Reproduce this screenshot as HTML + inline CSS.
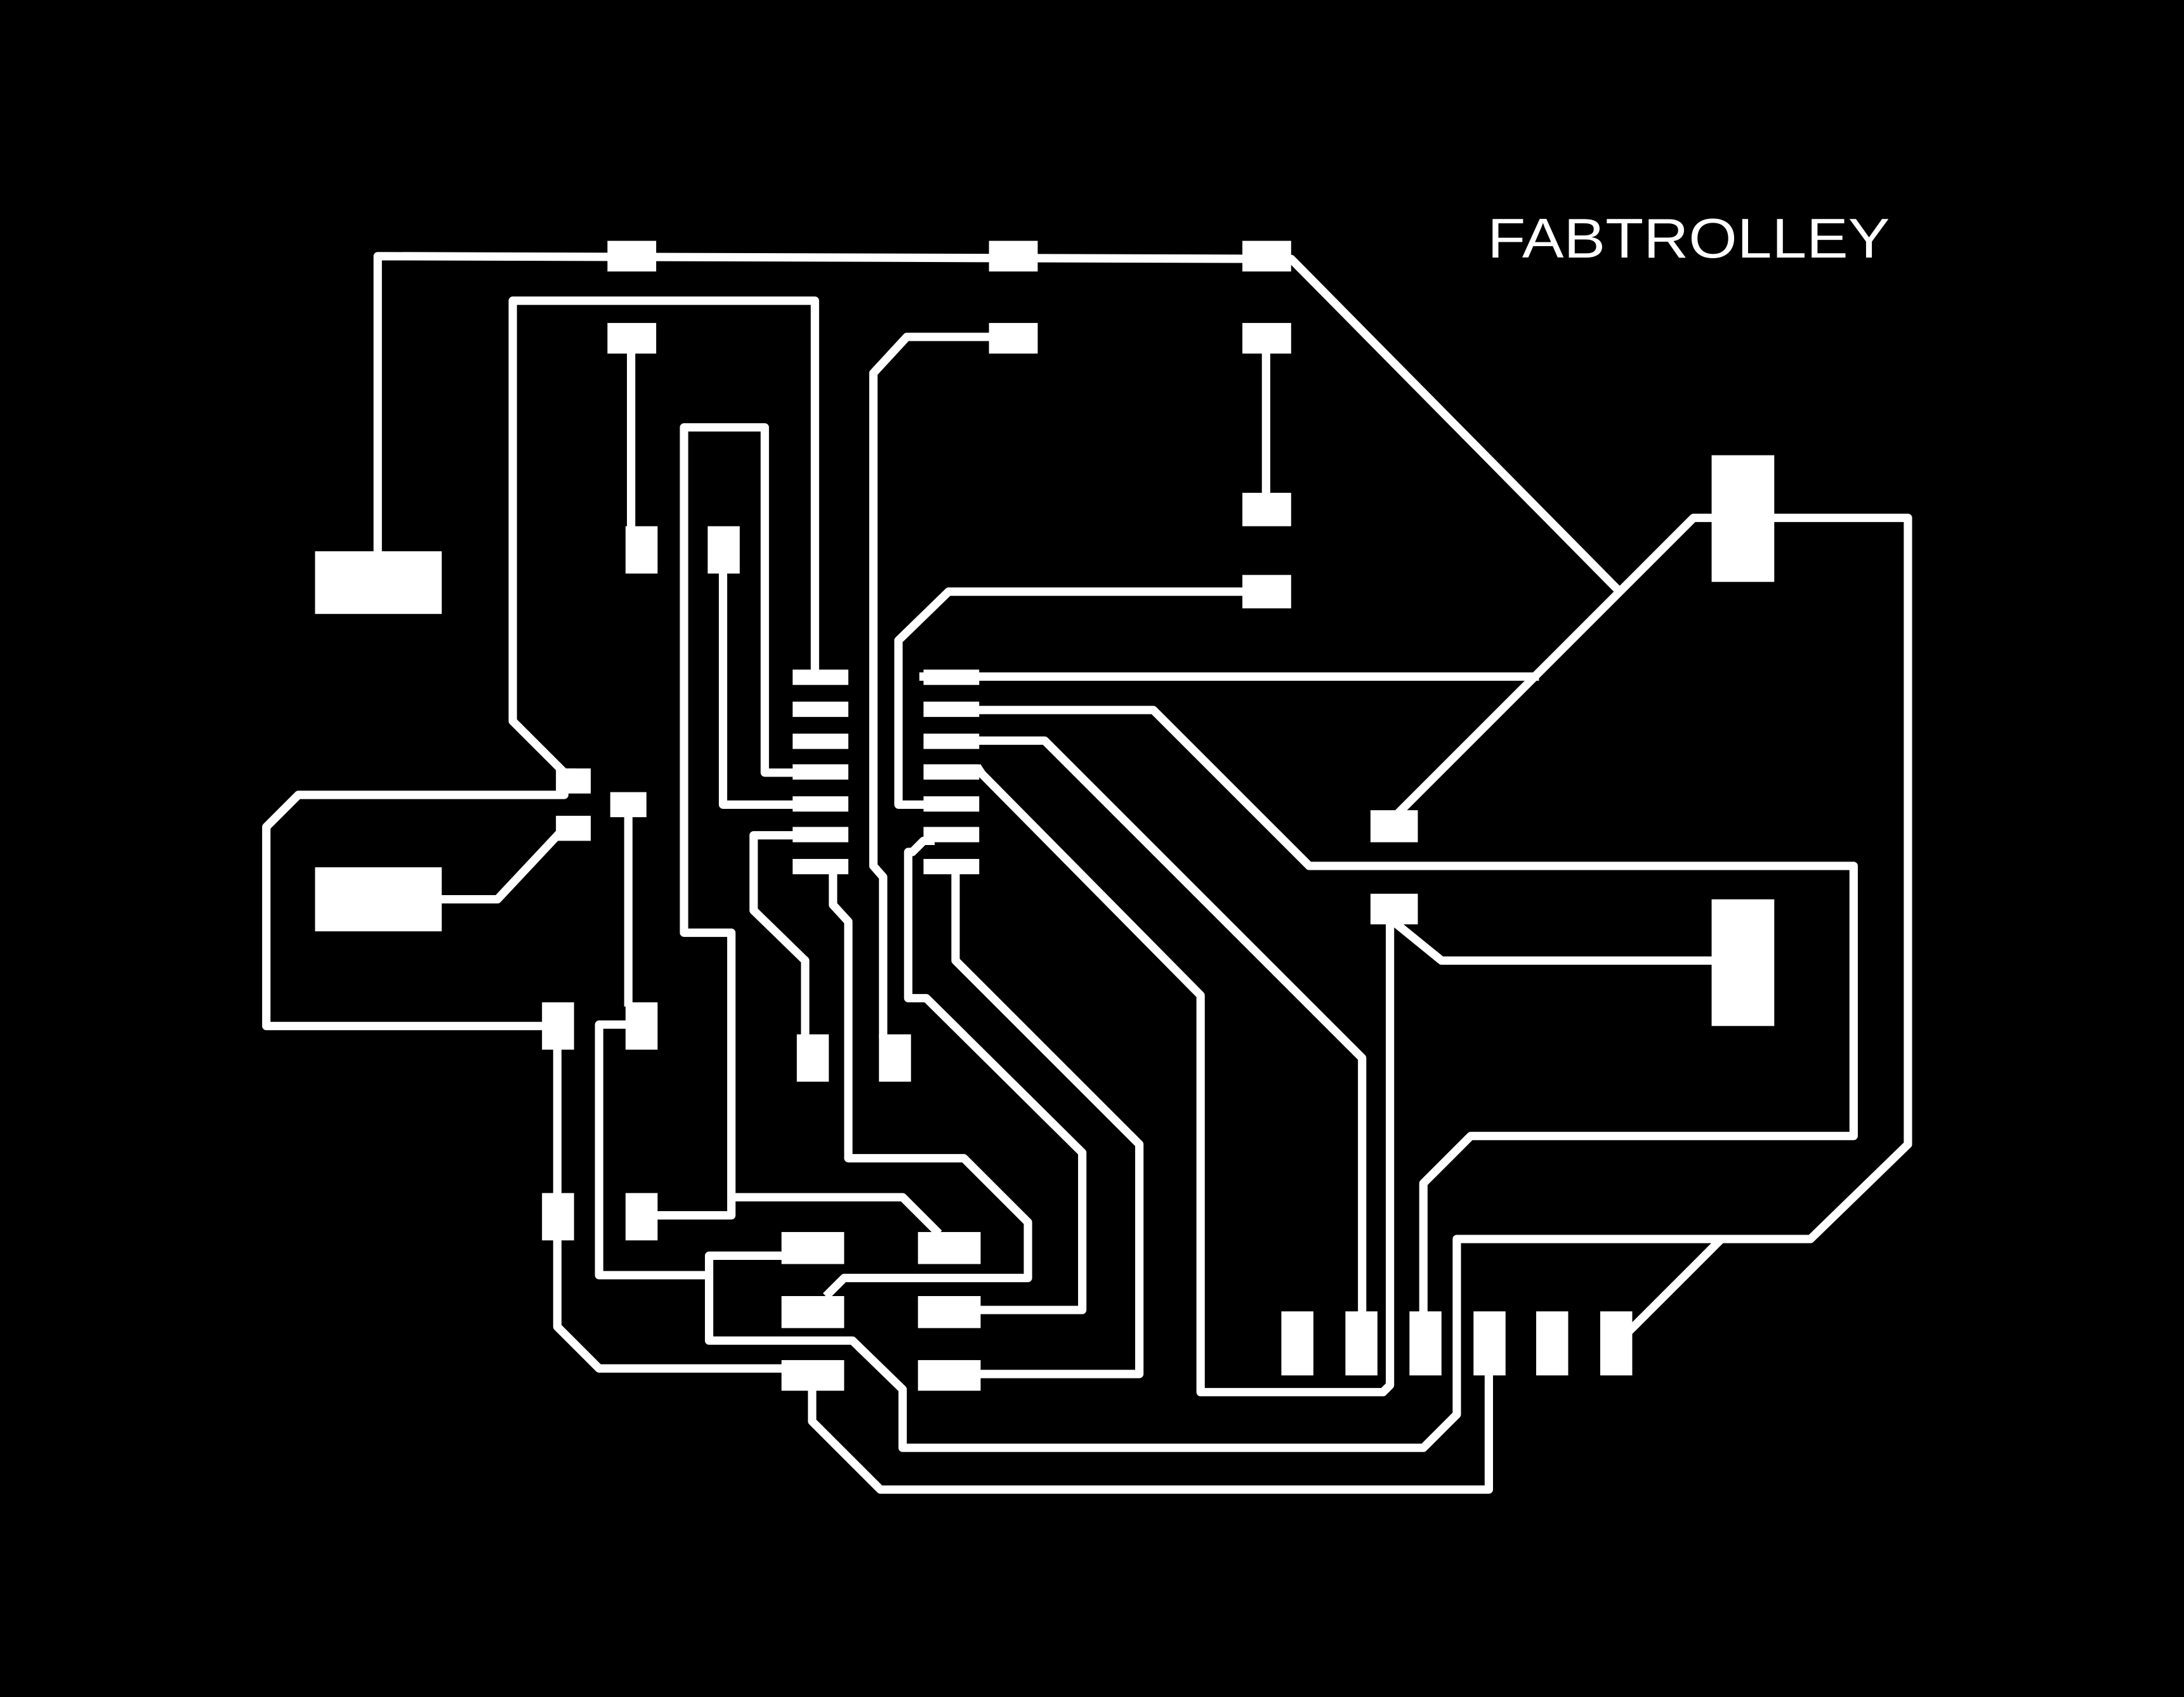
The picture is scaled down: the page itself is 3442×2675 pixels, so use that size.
<!DOCTYPE html>
<html><head><meta charset="utf-8"><style>
html,body{margin:0;padding:0;background:#000;}
svg{display:block;}
</style></head><body>
<svg width="3442" height="2675" viewBox="0 0 1568 1219" xmlns="http://www.w3.org/2000/svg">
<rect width="1568" height="1219" fill="#000"/>
<text x="1068" y="185" fill="#fff" font-family="Liberation Sans, sans-serif" font-size="40" textLength="289" lengthAdjust="spacingAndGlyphs">FABTROLLEY</text>
<g fill="none" stroke="#fff" stroke-width="6" stroke-linejoin="round" stroke-linecap="square">
<polyline points="271,400 271,184 927,186 1162,424"/>
<polyline points="1229,372 1216,372 1003,585"/>
<polyline points="663,486 1102,486"/>
<polyline points="1274,372 1370,372 1370,822 1300,890 1046,890 1046,1016 1022,1040 648,1040 648,998 612,963 509,963 509,902 561,902"/>
<polyline points="1233,893 1170,956"/>
<polyline points="1003,664 1035,690 1229,690"/>
<polyline points="998,664 998,995 993,1000 862,1000 862,715 705,556 703,553"/>
<polyline points="978,942 978,760 750,532 703,532"/>
<polyline points="703,510 828,510 940,622 1331,622 1331,816 1056,816 1022,850 1022,942"/>
<polyline points="1069,988 1069,1070 632,1070 583,1021 583,999"/>
<polyline points="585,482 585,216 368,216 368,518 405,555 410,555"/>
<polyline points="405,565 405,571 214,571 191,594 191,737 389,737"/>
<polyline points="317,646 357,646 402,598"/>
<polyline points="453,254 453,378"/>
<polyline points="909,254 909,354"/>
<polyline points="710,242 651,242 627,268 627,622 634,630 634,743"/>
<polyline points="892,425 681,425 645,460 645,578 663,578"/>
<polyline points="569,555 549,555 549,307 491,307 491,670 525,670 525,873 472,873"/>
<polyline points="519,412 519,578 569,578"/>
<polyline points="569,600 541,600 541,654 578,690 578,743"/>
<polyline points="598,628 598,650 609,662 609,832 692,832 738,878 738,918 606,918 595,929"/>
<polyline points="451,587 451,720"/>
<polyline points="400,754 400,857"/>
<polyline points="400,891 400,953 430,983 561,983"/>
<polyline points="449,736 430,736 430,916 505,916"/>
<polyline points="528,860 648,860 672,884"/>
<polyline points="668,604 663,604 655,612 652,612 652,717 665,717 777,828 777,941 704,941"/>
<polyline points="686,628 686,690 818,822 818,987 704,987"/>
</g>
<g fill="#fff">
<rect x="436" y="173" width="35" height="22"/><rect x="710" y="173" width="35" height="22"/><rect x="892" y="173" width="35" height="22"/>
<rect x="436" y="232" width="35" height="22"/><rect x="710" y="232" width="35" height="22"/><rect x="892" y="232" width="35" height="22"/>
<rect x="892" y="354" width="35" height="24"/><rect x="892" y="413" width="35" height="24"/>
<rect x="449" y="378" width="23" height="34"/><rect x="508" y="378" width="23" height="34"/>
<rect x="226" y="396" width="91" height="45"/><rect x="226" y="623" width="91" height="46"/>
<rect x="1229" y="327" width="45" height="91"/><rect x="1229" y="646" width="45" height="91"/>
<rect x="569" y="481" width="40" height="11"/><rect x="569" y="504" width="40" height="11"/><rect x="569" y="527" width="40" height="11"/><rect x="569" y="549" width="40" height="11"/><rect x="569" y="572" width="40" height="11"/><rect x="569" y="594" width="40" height="11"/><rect x="569" y="617" width="40" height="11"/>
<rect x="663" y="481" width="40" height="11"/><rect x="663" y="504" width="40" height="11"/><rect x="663" y="527" width="40" height="11"/><rect x="663" y="549" width="40" height="11"/><rect x="663" y="572" width="40" height="11"/><rect x="663" y="594" width="40" height="11"/><rect x="663" y="617" width="40" height="11"/>
<rect x="399" y="552" width="25" height="18"/><rect x="399" y="586" width="25" height="18"/><rect x="438" y="569" width="26" height="18"/>
<rect x="984" y="582" width="34" height="23"/><rect x="984" y="642" width="34" height="22"/>
<rect x="389" y="720" width="23" height="34"/><rect x="449" y="720" width="23" height="34"/><rect x="572" y="743" width="23" height="34"/><rect x="631" y="743" width="23" height="34"/>
<rect x="389" y="857" width="23" height="34"/><rect x="449" y="857" width="23" height="34"/>
<rect x="561" y="885" width="45" height="23"/><rect x="659" y="885" width="45" height="23"/>
<rect x="561" y="931" width="45" height="23"/><rect x="659" y="931" width="45" height="23"/>
<rect x="561" y="977" width="45" height="22"/><rect x="659" y="977" width="45" height="22"/>
<rect x="920" y="942" width="23" height="46"/><rect x="966" y="942" width="23" height="46"/><rect x="1012" y="942" width="23" height="46"/><rect x="1058" y="942" width="23" height="46"/><rect x="1103" y="942" width="23" height="46"/><rect x="1149" y="942" width="23" height="46"/>
</g>
</svg>
</body></html>
